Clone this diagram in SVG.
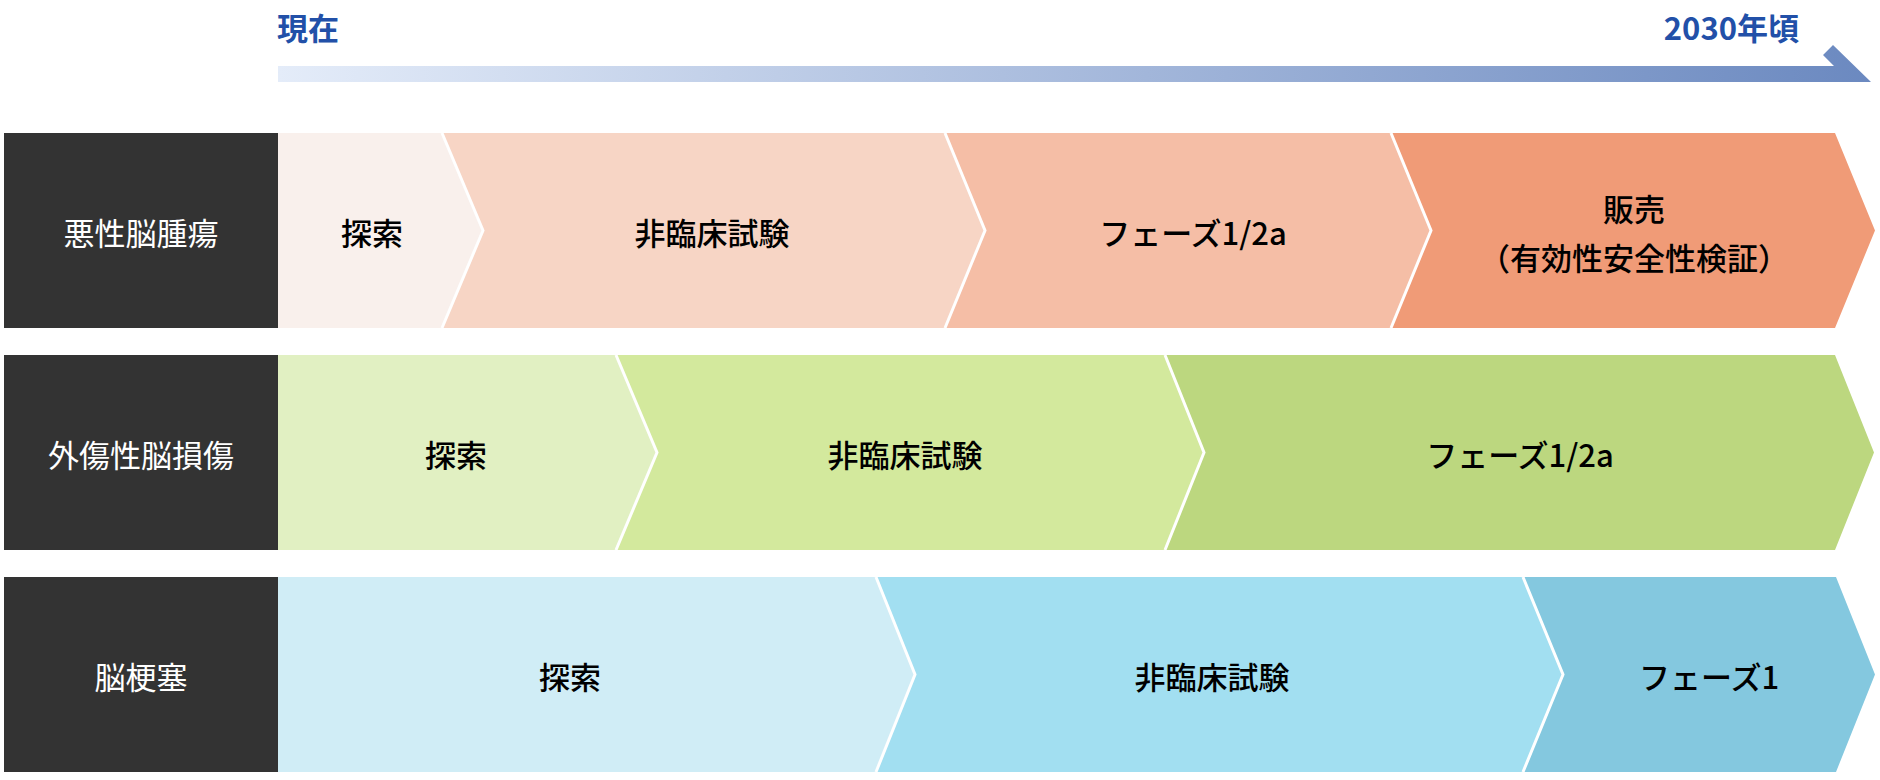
<svg xmlns="http://www.w3.org/2000/svg" width="1880" height="780" viewBox="0 0 1880 780">
<defs>
<linearGradient id="tl" gradientUnits="userSpaceOnUse" x1="278" y1="0" x2="1871" y2="0">
<stop offset="0" stop-color="#e4ecf9"/>
<stop offset="1" stop-color="#6b89c0"/>
</linearGradient>
<style>
text{font-family:"Noto Sans CJK JP","Noto Sans",sans-serif;font-size:31px;dominant-baseline:central}
.ttl{fill:#2250a8;font-weight:700}
.lbl{fill:#ffffff;font-weight:400;text-anchor:middle}
.stg{fill:#000000;font-weight:500;text-anchor:middle}
.hd{fill:#333333}
.sep{fill:none;stroke:#ffffff;stroke-width:3}
</style>
</defs>
<rect width="1880" height="780" fill="#ffffff"/>
<g id="timeline">
<polygon points="278,66 1834,66 1823,55 1833,45 1871,82 278,82" fill="url(#tl)"/>
<text class="ttl" x="277" y="26">現在</text>
<text class="ttl" x="1799" y="26" text-anchor="end">2030年頃</text>
</g>
<g id="row1">
<rect class="hd" x="4" y="133" width="274" height="195"/>
<text class="lbl" x="141" y="231">悪性脳腫瘍</text>
<polygon points="278,133 442,133 483,230.5 442,328 278,328" fill="#f9f0ec"/>
<polygon points="442,133 945,133 985,230.5 945,328 442,328 483,230.5" fill="#f7d5c5"/>
<polygon points="945,133 1391,133 1431,230.5 1391,328 945,328 985,230.5" fill="#f5bea6"/>
<polygon points="1391,133 1835,133 1875,230.5 1835,328 1391,328 1431,230.5" fill="#f09b77"/>
</g>
<g id="row2">
<rect class="hd" x="4" y="355" width="274" height="195"/>
<text class="lbl" x="141" y="453">外傷性脳損傷</text>
<polygon points="278,355 616,355 657,452.5 616,550 278,550" fill="#e1f0c2"/>
<polygon points="616,355 1165,355 1204,452.5 1165,550 616,550 657,452.5" fill="#d3e99d"/>
<polygon points="1165,355 1835,355 1874,452.5 1835,550 1165,550 1204,452.5" fill="#bcd77f"/>
</g>
<g id="row3">
<rect class="hd" x="4" y="577" width="274" height="195"/>
<text class="lbl" x="141" y="675">脳梗塞</text>
<polygon points="278,577 876,577 915,674.5 876,772 278,772" fill="#d0edf6"/>
<polygon points="876,577 1523,577 1563,674.5 1523,772 876,772 915,674.5" fill="#a2dff1"/>
<polygon points="1523,577 1836,577 1875,674.5 1836,772 1523,772 1563,674.5" fill="#84c8df"/>
</g>
<g id="connectors">
<polyline class="sep" points="442,133 483,230.5 442,328"/>
<polyline class="sep" points="945,133 985,230.5 945,328"/>
<polyline class="sep" points="1391,133 1431,230.5 1391,328"/>
<polyline class="sep" points="616,355 657,452.5 616,550"/>
<polyline class="sep" points="1165,355 1204,452.5 1165,550"/>
<polyline class="sep" points="876,577 915,674.5 876,772"/>
<polyline class="sep" points="1523,577 1563,674.5 1523,772"/>
</g>
<g id="labels">
<text class="stg" x="372" y="231">探索</text>
<text class="stg" x="712" y="231">非臨床試験</text>
<text class="stg" x="1193" y="231">フェーズ1/2a</text>
<text class="stg" x="1634" y="207">販売</text>
<text class="stg" x="1634" y="256">（有効性安全性検証）</text>
<text class="stg" x="456" y="453">探索</text>
<text class="stg" x="905" y="453">非臨床試験</text>
<text class="stg" x="1520" y="453">フェーズ1/2a</text>
<text class="stg" x="570" y="675">探索</text>
<text class="stg" x="1212" y="675">非臨床試験</text>
<text class="stg" x="1709" y="675">フェーズ1</text>
</g>
</svg>
